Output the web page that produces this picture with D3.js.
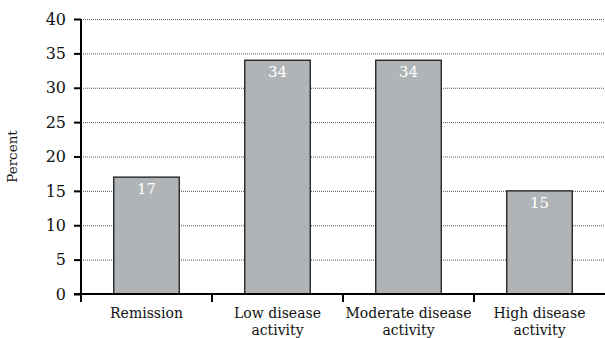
<!DOCTYPE html>
<html><head><meta charset="utf-8">
<script src="https://cdn.jsdelivr.net/npm/d3@7"></script>
<style>body{margin:0;background:#fff}</style>
</head><body>
<svg id="c" width="605" height="338"></svg>
<script>
const categories = [["Remission"], ["Low disease", "activity"], ["Moderate disease", "activity"], ["High disease", "activity"]];
const values = [17, 34, 34, 15];
const yTicks = [0, 5, 10, 15, 20, 25, 30, 35, 40];

const svg = d3.select("#c");
const font = "'DejaVu Serif', serif";
const x0 = 81, x1 = 605, yTop = 19, yBot = 294;
const x = d3.scaleBand().domain(d3.range(categories.length)).range([x0, x1]).paddingInner(0.5).paddingOuter(0.25);
const band = d3.scaleBand().domain(d3.range(categories.length)).range([x0, x1]);
const y = d3.scaleLinear().domain([0, 40]).range([yBot, yTop]);

// gridlines
svg.append("g").selectAll("line").data(yTicks.filter(d => d > 0)).join("line")
  .attr("x1", x0).attr("x2", x1).attr("y1", d => y(d) + 0.5).attr("y2", d => y(d) + 0.5)
  .attr("stroke", "#555").attr("stroke-width", 1).attr("stroke-dasharray", "1,1");

// bars
svg.append("g").selectAll("rect").data(values).join("rect")
  .attr("x", (d, i) => x(i)).attr("width", x.bandwidth())
  .attr("y", d => y(d)).attr("height", d => yBot - y(d))
  .attr("fill", "#b1b4b6").attr("stroke", "#1a1a1a").attr("stroke-width", 1.3);

svg.append("g").selectAll("text").data(values).join("text")
  .attr("x", (d, i) => x(i) + x.bandwidth() / 2).attr("y", d => y(d) + 17)
  .attr("text-anchor", "middle").attr("fill", "#fff")
  .attr("font-family", font).attr("font-size", 15).text(d => d);

// y axis
const yAxis = d3.axisLeft(y).tickValues(yTicks).tickSize(7).tickPadding(8);
const gy = svg.append("g").attr("transform", `translate(${x0},0)`).call(yAxis);
gy.select(".domain").remove();
gy.selectAll(".tick line").attr("stroke", "#000").attr("stroke-width", 2);
gy.selectAll(".tick text").attr("font-family", font).attr("font-size", 16).attr("fill", "#111");
svg.append("line").attr("x1", x0).attr("x2", x0).attr("y1", yTop).attr("y2", yBot + 8)
  .attr("stroke", "#000").attr("stroke-width", 2);

// x axis
svg.append("line").attr("x1", x0 - 7).attr("x2", x1).attr("y1", yBot).attr("y2", yBot)
  .attr("stroke", "#000").attr("stroke-width", 2);
svg.append("g").selectAll("line").data(d3.range(1, categories.length)).join("line")
  .attr("x1", i => band(i)).attr("x2", i => band(i)).attr("y1", yBot).attr("y2", yBot + 8)
  .attr("stroke", "#000").attr("stroke-width", 2);

const lbl = svg.append("g").selectAll("text").data(categories).join("text")
  .attr("text-anchor", "middle").attr("font-family", font).attr("font-size", 14).attr("fill", "#111")
  .attr("transform", (d, i) => `translate(${band(i) + band.bandwidth() / 2},${yBot + 24})`);
lbl.selectAll("tspan").data(d => d).join("tspan")
  .attr("x", 0).attr("dy", (d, j) => j === 0 ? 0 : 16.5).text(d => d);

svg.append("text").attr("transform", `translate(17,${(yTop + yBot) / 2}) rotate(-90)`)
  .attr("text-anchor", "middle").attr("font-family", font).attr("font-size", 13.5).attr("fill", "#111")
  .text("Percent");
</script>
</body></html>
